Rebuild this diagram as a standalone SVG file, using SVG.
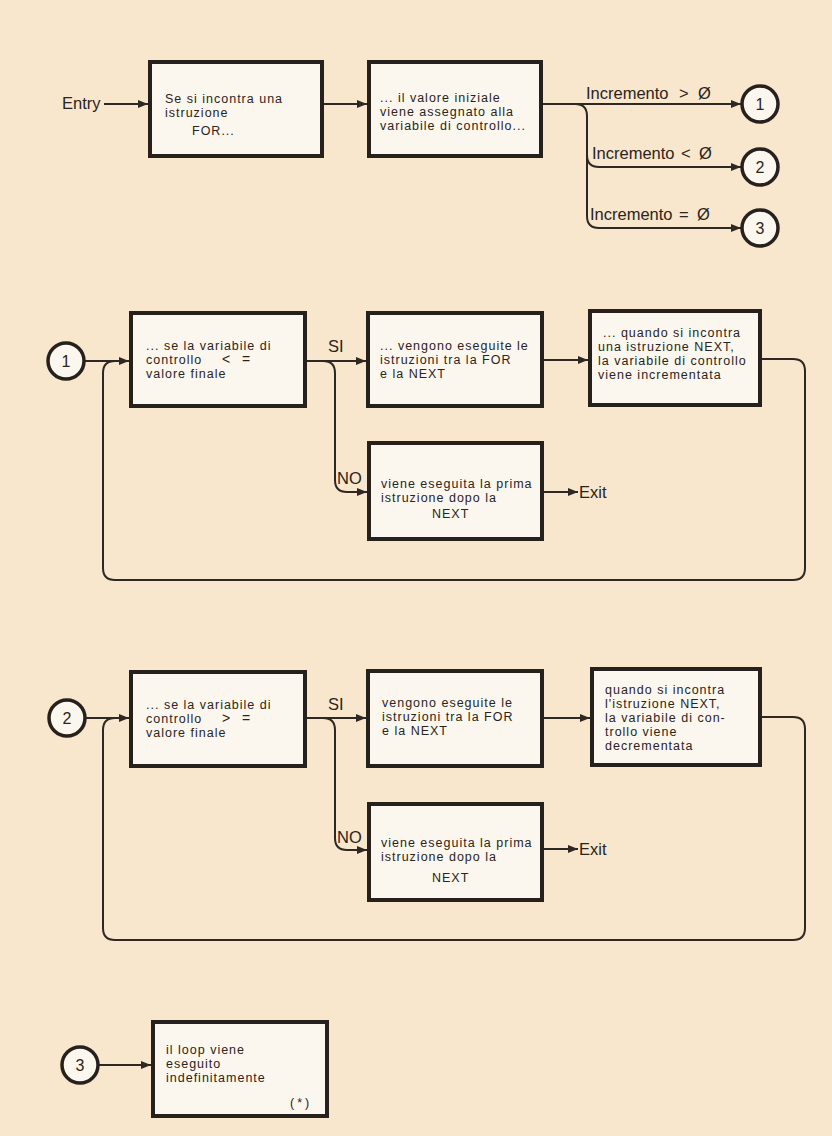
<svg xmlns="http://www.w3.org/2000/svg" width="832" height="1136" viewBox="0 0 832 1136">
<defs>
<style>
.bg{fill:#f8e6cd}
.box{fill:#fcf7ee;stroke:#26211d;stroke-width:4}
.circ{fill:#fcf7ee;stroke:#26211d;stroke-width:3.5}
.ln{fill:none;stroke:#2e2824;stroke-width:2}
.t{font-family:"Liberation Sans",Arial,sans-serif;font-size:12.5px;letter-spacing:1px;fill:#2a2420}
.sym{font-family:"Liberation Sans",Arial,sans-serif;font-size:14px;fill:#2a2420}
.lb{font-family:"Liberation Sans",Arial,sans-serif;font-size:16.5px;fill:#2a2420}
.num{font-family:"Liberation Sans",Arial,sans-serif;font-size:16px;fill:#2a2420;text-anchor:middle}
</style>
<marker id="ar" viewBox="0 0 10 8" refX="10" refY="4" markerWidth="10" markerHeight="8" markerUnits="userSpaceOnUse" orient="auto">
<path d="M0,0 L10,4 L0,8 z" fill="#2e2824"/>
</marker>
</defs>
<rect class="bg" x="0" y="0" width="832" height="1136"/>

<g id="connectors">
<path class="ln" d="M104 104 H148" marker-end="url(#ar)"/>
<path class="ln" d="M322 104 H367" marker-end="url(#ar)"/>
<path class="ln" d="M541 104 H741" marker-end="url(#ar)"/>
<path class="ln" d="M575 104 Q587 104 587 116 V155 Q587 167 599 167 H741" marker-end="url(#ar)"/>
<path class="ln" d="M587 155 V216 Q587 228 599 228 H741" marker-end="url(#ar)"/>
<path class="ln" d="M84 361 H129" marker-end="url(#ar)"/>
<path class="ln" d="M305 361 H366" marker-end="url(#ar)"/>
<path class="ln" d="M323 361 Q335 361 335 373 V480 Q335 492 347 492 H367" marker-end="url(#ar)"/>
<path class="ln" d="M542 360 H588" marker-end="url(#ar)"/>
<path class="ln" d="M542 492 H578" marker-end="url(#ar)"/>
<path class="ln" d="M760 359 H793 Q805 359 805 371 V568 Q805 580 793 580 H115 Q103 580 103 568 V373 Q103 361 115 361"/>
<path class="ln" d="M85 718 H129" marker-end="url(#ar)"/>
<path class="ln" d="M305 718 H366" marker-end="url(#ar)"/>
<path class="ln" d="M323 718 Q335 718 335 730 V838 Q335 850 347 850 H367" marker-end="url(#ar)"/>
<path class="ln" d="M542 718 H590" marker-end="url(#ar)"/>
<path class="ln" d="M542 849 H578" marker-end="url(#ar)"/>
<path class="ln" d="M760 717 H793 Q805 717 805 729 V928 Q805 940 793 940 H115 Q103 940 103 928 V730 Q103 718 115 718"/>
<path class="ln" d="M98 1065 H151" marker-end="url(#ar)"/>
<text class="lb" x="62" y="109">Entry</text>
<text class="lb" x="586" y="99">Incremento<tspan x="679">&gt;</tspan><tspan x="698">Ø</tspan></text>
<text class="lb" x="592" y="159">Incremento<tspan x="681">&lt;</tspan><tspan x="699">Ø</tspan></text>
<text class="lb" x="590" y="220">Incremento<tspan x="679">=</tspan><tspan x="697">Ø</tspan></text>
<text class="lb" x="328" y="352">SI</text>
<text class="lb" x="337" y="484">NO</text>
<text class="lb" x="579" y="498">Exit</text>
<text class="lb" x="328" y="710">SI</text>
<text class="lb" x="337" y="843">NO</text>
<text class="lb" x="579" y="855">Exit</text>
</g>

<g id="n-for">
<rect class="box" x="150" y="62" width="172" height="94"/>
<text class="t" x="165" y="103">Se si incontra una</text>
<text class="t" x="165" y="117">istruzione</text>
<text class="t" x="192" y="135">FOR...</text>
</g>
<g id="n-init">
<rect class="box" x="369" y="62" width="172" height="94"/>
<text class="t" x="380" y="102">... il valore iniziale</text>
<text class="t" x="380" y="116">viene assegnato alla</text>
<text class="t" x="380" y="130">variabile di controllo...</text>
</g>
<g id="c1-top"><circle class="circ" cx="760" cy="104" r="18"/><text class="num" x="760" y="110">1</text></g>
<g id="c2-top"><circle class="circ" cx="760" cy="167" r="18"/><text class="num" x="760" y="173">2</text></g>
<g id="c3-top"><circle class="circ" cx="760" cy="228" r="18"/><text class="num" x="760" y="234">3</text></g>

<g id="c1"><circle class="circ" cx="66" cy="361" r="18"/><text class="num" x="66" y="367">1</text></g>
<g id="n-test1">
<rect class="box" x="131" y="313" width="174" height="93"/>
<text class="t" x="146" y="350">... se la variabile di</text>
<text class="t" x="146" y="364">controllo</text>
<text class="sym" x="222" y="364">&lt;</text>
<text class="sym" x="242" y="364">=</text>
<text class="t" x="146" y="378">valore finale</text>
</g>
<g id="n-exec1">
<rect class="box" x="368" y="313" width="174" height="93"/>
<text class="t" x="380" y="350">... vengono eseguite le</text>
<text class="t" x="380" y="364">istruzioni tra la FOR</text>
<text class="t" x="380" y="378">e la NEXT</text>
</g>
<g id="n-inc">
<rect class="box" x="590" y="311" width="170" height="94"/>
<text class="t" x="603" y="337">... quando si incontra</text>
<text class="t" x="598" y="351">una istruzione NEXT,</text>
<text class="t" x="598" y="365">la variabile di controllo</text>
<text class="t" x="598" y="379">viene incrementata</text>
</g>
<g id="n-exit1">
<rect class="box" x="369" y="443" width="173" height="96"/>
<text class="t" x="381" y="488">viene eseguita la prima</text>
<text class="t" x="381" y="502">istruzione dopo la</text>
<text class="t" x="432" y="518">NEXT</text>
</g>

<g id="c2"><circle class="circ" cx="67" cy="718" r="18"/><text class="num" x="67" y="724">2</text></g>
<g id="n-test2">
<rect class="box" x="131" y="672" width="174" height="94"/>
<text class="t" x="146" y="709">... se la variabile di</text>
<text class="t" x="146" y="723">controllo</text>
<text class="sym" x="222" y="723">&gt;</text>
<text class="sym" x="242" y="723">=</text>
<text class="t" x="146" y="737">valore finale</text>
</g>
<g id="n-exec2">
<rect class="box" x="368" y="671" width="174" height="95"/>
<text class="t" x="382" y="707">vengono eseguite le</text>
<text class="t" x="382" y="721">istruzioni tra la FOR</text>
<text class="t" x="382" y="735">e la NEXT</text>
</g>
<g id="n-dec">
<rect class="box" x="592" y="669" width="168" height="96"/>
<text class="t" x="605" y="694">quando si incontra</text>
<text class="t" x="605" y="708">l'istruzione NEXT,</text>
<text class="t" x="605" y="722">la variabile di con-</text>
<text class="t" x="605" y="736">trollo viene</text>
<text class="t" x="605" y="750">decrementata</text>
</g>
<g id="n-exit2">
<rect class="box" x="369" y="804" width="173" height="96"/>
<text class="t" x="381" y="847">viene eseguita la prima</text>
<text class="t" x="381" y="861">istruzione dopo la</text>
<text class="t" x="432" y="882">NEXT</text>
</g>

<g id="c3"><circle class="circ" cx="80" cy="1065" r="18"/><text class="num" x="80" y="1071">3</text></g>
<g id="n-inf">
<rect class="box" x="153" y="1022" width="174" height="94"/>
<text class="t" x="166" y="1054">il loop viene</text>
<text class="t" x="166" y="1068">eseguito</text>
<text class="t" x="166" y="1082">indefinitamente</text>
<text class="t" x="290" y="1107" style="letter-spacing:3px">(*)</text>
</g>
</svg>
